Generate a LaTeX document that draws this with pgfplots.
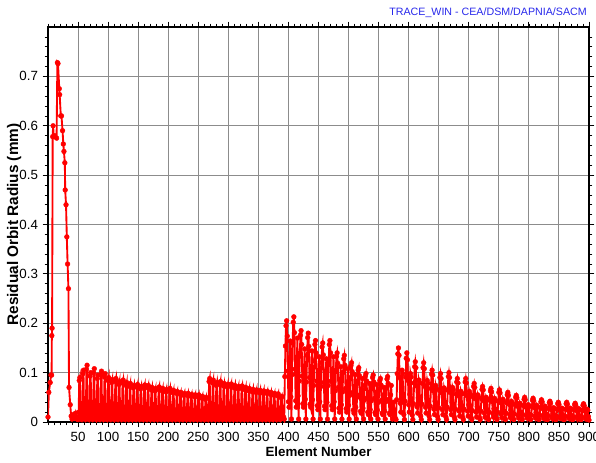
\documentclass[border=0pt]{standalone}
\usepackage{pgfplots}
\pgfplotsset{compat=1.18}
\usepackage{fontspec}
\setmainfont{Liberation Sans}
\definecolor{twblue}{RGB}{40,40,235}
\definecolor{gridgray}{RGB}{140,140,140}
\begin{document}
\begin{tikzpicture}
\useasboundingbox (-36pt,-30pt) rectangle (411pt,316.5pt);
\begin{axis}[
  scale only axis, width=405.75pt, height=296.25pt,
  xmin=0, xmax=900, ymin=0, ymax=0.8,
  xtick={50,100,...,900},
  minor xtick={0,10,...,900},
  ytick={0,0.1,0.2,0.3,0.4,0.5,0.6,0.7},
  minor ytick={0.02,0.04,0.06,0.08,0.12,0.14,0.16,0.18,0.22,0.24,0.26,0.28,0.32,0.34,0.36,0.38,0.42,0.44,0.46,0.48,0.52,0.54,0.56,0.58,0.62,0.64,0.66,0.68,0.72,0.74,0.76,0.78},
  /pgf/number format/assume math mode=true,
  yticklabel style={/pgf/number format/fixed, /pgf/number format/precision=1},
  scaled y ticks=false,
  tick align=outside,
  major tick length=4pt, minor tick length=2.5pt,
  tick style={black, line width=0.6pt},
  minor tick style={black, line width=0.5pt},
  xmajorgrids, ymajorgrids,
  major grid style={gridgray, line width=0.8pt},
  axis line style={black, line width=1.2pt},
  ticklabel style={font=\fontsize{10}{12}\selectfont},
  xlabel={\bfseries Element Number},
  ylabel={\bfseries Residual Orbit Radius (mm)},
  xlabel style={font=\fontsize{10}{12}\selectfont, inner sep=0.5pt, anchor=center, at={(axis description cs:0.5,-0.074)}},
  ylabel style={font=\fontsize{11.5}{13}\selectfont, inner sep=0.5pt, anchor=center, at={(axis description cs:-0.0625,0.5)}},
]
\addplot[red, line width=1.4pt, mark=*, mark size=1.8pt, mark options={fill=red, draw=red, line width=0.3pt}] coordinates {
(0,0.010) (1.4,0.060) (3.6,0.080) (5,0.095) (6,0.095) (6.4,0.175) (6.8,0.190) (7.8,0.578) (8.5,0.600) (9.5,0.578) (11,0.580) (14.3,0.575) (15.6,0.728) (16.6,0.726) (18.8,0.675) (19.4,0.663) (21.3,0.620) (22.4,0.620) (24.2,0.590) (25.5,0.563) (26.5,0.548) (28,0.525) (28.6,0.470) (30,0.440) (31.3,0.375) (32.6,0.320) (34,0.270) (35,0.070) (37,0.035) (38.5,0.012) (40,0.006) (42,0.015) (44,0.008) (46,0.018) (48,0.006)
(50,0.005) (51,0.020) (52,0.084) (53,0.090) (54,0.015) (55,0.008)
(56,0.005) (57,0.020) (58,0.098) (59,0.105) (60,0.015) (61,0.008)
(62,0.005) (63,0.020) (64,0.107) (65,0.115) (66,0.015) (67,0.008)
(68,0.005) (69,0.020) (70,0.093) (71,0.100) (72,0.015) (73,0.008)
(74,0.005) (75,0.020) (76,0.100) (77,0.108) (78,0.015) (79,0.008)
(80,0.005) (81,0.020) (82,0.088) (83,0.095) (84,0.015) (85,0.008)
(86,0.005) (87,0.020) (88,0.096) (89,0.103) (90,0.015) (91,0.008)
(92,0.005) (93,0.020) (94,0.091) (95,0.098) (96,0.015) (97,0.008)
(98,0.005) (99,0.020) (100,0.084) (101,0.090) (102,0.015) (103,0.008)
(104,0.005) (105,0.020) (106,0.080) (107,0.086) (108,0.015) (109,0.008)
(110,0.005) (111,0.020) (112,0.082) (113,0.088) (114,0.015) (115,0.008)
(116,0.005) (117,0.020) (118,0.076) (119,0.082) (120,0.015) (121,0.008)
(122,0.005) (123,0.020) (124,0.079) (125,0.085) (126,0.015) (127,0.008)
(128,0.005) (129,0.020) (130,0.074) (131,0.080) (132,0.015) (133,0.008)
(134,0.005) (135,0.020) (136,0.072) (137,0.078) (138,0.015) (139,0.008)
(140,0.005) (141,0.020) (142,0.069) (143,0.074) (144,0.015) (145,0.008)
(146,0.005) (147,0.020) (148,0.071) (149,0.076) (150,0.015) (151,0.008)
(152,0.005) (153,0.020) (154,0.067) (155,0.072) (156,0.015) (157,0.008)
(158,0.005) (159,0.020) (160,0.070) (161,0.075) (162,0.015) (163,0.008)
(164,0.005) (165,0.020) (166,0.069) (167,0.074) (168,0.015) (169,0.008)
(170,0.005) (171,0.020) (172,0.065) (173,0.070) (174,0.015) (175,0.008)
(176,0.005) (177,0.020) (178,0.063) (179,0.068) (180,0.015) (181,0.008)
(182,0.005) (183,0.020) (184,0.066) (185,0.071) (186,0.015) (187,0.008)
(188,0.005) (189,0.020) (190,0.063) (191,0.068) (192,0.015) (193,0.008)
(194,0.005) (195,0.020) (196,0.061) (197,0.066) (198,0.015) (199,0.008)
(200,0.005) (201,0.020) (202,0.063) (203,0.068) (204,0.015) (205,0.008)
(206,0.005) (207,0.020) (208,0.059) (209,0.064) (210,0.015) (211,0.008)
(212,0.005) (213,0.020) (214,0.058) (215,0.062) (216,0.015) (217,0.008)
(218,0.005) (219,0.020) (220,0.056) (221,0.060) (222,0.015) (223,0.008)
(224,0.005) (225,0.020) (226,0.054) (227,0.058) (228,0.015) (229,0.008)
(230,0.005) (231,0.020) (232,0.054) (233,0.058) (234,0.015) (235,0.008)
(236,0.005) (237,0.020) (238,0.052) (239,0.056) (240,0.015) (241,0.008)
(242,0.005) (243,0.020) (244,0.051) (245,0.055) (246,0.015) (247,0.008)
(248,0.005) (249,0.020) (250,0.051) (251,0.055) (252,0.015) (253,0.008)
(254,0.005) (255,0.020) (256,0.048) (257,0.052) (258,0.015) (259,0.008)
(260,0.005) (261,0.020) (262,0.046) (263,0.050) (264,0.015) (265,0.008)
(266,0.005) (267,0.020) (268,0.082) (269,0.088) (270,0.015) (271,0.008)
(272,0.005) (273,0.020) (274,0.079) (275,0.085) (276,0.015) (277,0.008)
(278,0.005) (279,0.020) (280,0.074) (281,0.080) (282,0.015) (283,0.008)
(284,0.005) (285,0.020) (286,0.076) (287,0.082) (288,0.015) (289,0.008)
(290,0.005) (291,0.020) (292,0.073) (293,0.078) (294,0.015) (295,0.008)
(296,0.005) (297,0.020) (298,0.071) (299,0.076) (300,0.015) (301,0.008)
(302,0.005) (303,0.020) (304,0.072) (305,0.077) (306,0.015) (307,0.008)
(308,0.005) (309,0.020) (310,0.069) (311,0.074) (312,0.015) (313,0.008)
(314,0.005) (315,0.020) (316,0.067) (317,0.072) (318,0.015) (319,0.008)
(320,0.005) (321,0.020) (322,0.068) (323,0.073) (324,0.015) (325,0.008)
(326,0.005) (327,0.020) (328,0.065) (329,0.070) (330,0.015) (331,0.008)
(332,0.005) (333,0.020) (334,0.063) (335,0.068) (336,0.015) (337,0.008)
(338,0.005) (339,0.020) (340,0.061) (341,0.066) (342,0.015) (343,0.008)
(344,0.005) (345,0.020) (346,0.060) (347,0.065) (348,0.015) (349,0.008)
(350,0.005) (351,0.020) (352,0.059) (353,0.064) (354,0.015) (355,0.008)
(356,0.005) (357,0.020) (358,0.058) (359,0.063) (360,0.015) (361,0.008)
(362,0.005) (363,0.020) (364,0.058) (365,0.062) (366,0.015) (367,0.008)
(368,0.005) (369,0.020) (370,0.056) (371,0.060) (372,0.015) (373,0.008)
(374,0.005) (375,0.020) (376,0.054) (377,0.058) (378,0.015) (379,0.008)
(380,0.005) (381,0.020) (382,0.053) (383,0.057) (384,0.015) (385,0.008)
(386,0.005) (387,0.020) (388,0.049) (389,0.052) (390,0.015) (391,0.008) (392,0.010)
(393,0.006) (394,0.092) (395,0.154) (396,0.195) (397,0.205) (398,0.174) (399,0.103) (400,0.041) (401,0.030) (402,0.123) (403,0.164) (404,0.051)
(405,0.006) (406,0.096) (407,0.160) (408,0.202) (409,0.213) (410,0.181) (411,0.107) (412,0.043) (413,0.030) (414,0.128) (415,0.170) (416,0.053)
(417,0.006) (418,0.083) (419,0.139) (420,0.176) (421,0.185) (422,0.157) (423,0.093) (424,0.037) (425,0.030) (426,0.111) (427,0.148) (428,0.046)
(429,0.006) (430,0.081) (431,0.135) (432,0.171) (433,0.180) (434,0.153) (435,0.090) (436,0.036) (437,0.030) (438,0.108) (439,0.144) (440,0.045)
(441,0.006) (442,0.074) (443,0.124) (444,0.157) (445,0.165) (446,0.140) (447,0.083) (448,0.033) (449,0.025) (450,0.099) (451,0.132) (452,0.041)
(453,0.006) (454,0.072) (455,0.120) (456,0.152) (457,0.160) (458,0.136) (459,0.080) (460,0.032) (461,0.025) (462,0.096) (463,0.128) (464,0.040)
(465,0.006) (466,0.074) (467,0.124) (468,0.157) (469,0.165) (470,0.140) (471,0.083) (472,0.033) (473,0.025) (474,0.099) (475,0.132) (476,0.041)
(477,0.006) (478,0.063) (479,0.105) (480,0.133) (481,0.140) (482,0.119) (483,0.070) (484,0.028) (485,0.020) (486,0.084) (487,0.112) (488,0.035)
(489,0.006) (490,0.061) (491,0.101) (492,0.128) (493,0.135) (494,0.115) (495,0.068) (496,0.027) (497,0.020) (498,0.081) (499,0.108) (500,0.034)
(501,0.006) (502,0.054) (503,0.090) (504,0.114) (505,0.120) (506,0.102) (507,0.060) (508,0.024) (509,0.018) (510,0.072) (511,0.096) (512,0.030)
(513,0.006) (514,0.050) (515,0.083) (516,0.105) (517,0.110) (518,0.094) (519,0.055) (520,0.022) (521,0.018) (522,0.066) (523,0.088) (524,0.028)
(525,0.006) (526,0.044) (527,0.074) (528,0.093) (529,0.098) (530,0.083) (531,0.049) (532,0.020) (533,0.015) (534,0.059) (535,0.078) (536,0.025)
(537,0.006) (538,0.043) (539,0.071) (540,0.090) (541,0.095) (542,0.081) (543,0.048) (544,0.019) (545,0.015) (546,0.057) (547,0.076) (548,0.024)
(549,0.006) (550,0.040) (551,0.066) (552,0.084) (553,0.088) (554,0.075) (555,0.044) (556,0.018) (557,0.015) (558,0.053) (559,0.070) (560,0.022)
(561,0.006) (562,0.041) (563,0.069) (564,0.087) (565,0.092) (566,0.078) (567,0.046) (568,0.018) (569,0.015) (570,0.055) (571,0.074) (572,0.023)
(573,0.006) (575,0.040) (577,0.010) (578,0.006)
(579,0.005) (580,0.045) (581,0.098) (582,0.138) (583,0.150) (584,0.135) (585,0.090) (586,0.038) (587,0.020) (588,0.060) (589,0.105) (590,0.098) (591,0.045) (592,0.015)
(593,0.005) (594,0.042) (595,0.091) (596,0.129) (597,0.140) (598,0.126) (599,0.084) (600,0.035) (601,0.020) (602,0.056) (603,0.098) (604,0.091) (605,0.042) (606,0.014)
(607,0.005) (608,0.037) (609,0.079) (610,0.112) (611,0.122) (612,0.110) (613,0.073) (614,0.031) (615,0.018) (616,0.049) (617,0.085) (618,0.079) (619,0.037) (620,0.012)
(621,0.005) (622,0.036) (623,0.078) (624,0.110) (625,0.120) (626,0.108) (627,0.072) (628,0.030) (629,0.018) (630,0.048) (631,0.084) (632,0.078) (633,0.036) (634,0.012)
(635,0.005) (636,0.032) (637,0.068) (638,0.097) (639,0.105) (640,0.095) (641,0.063) (642,0.026) (643,0.015) (644,0.042) (645,0.074) (646,0.068) (647,0.032) (648,0.011)
(649,0.005) (650,0.029) (651,0.064) (652,0.090) (653,0.098) (654,0.088) (655,0.059) (656,0.025) (657,0.015) (658,0.039) (659,0.069) (660,0.064) (661,0.029) (662,0.010)
(663,0.005) (664,0.030) (665,0.065) (666,0.092) (667,0.100) (668,0.090) (669,0.060) (670,0.025) (671,0.015) (672,0.040) (673,0.070) (674,0.065) (675,0.030) (676,0.010)
(677,0.005) (678,0.026) (679,0.057) (680,0.081) (681,0.088) (682,0.079) (683,0.053) (684,0.022) (685,0.012) (686,0.035) (687,0.062) (688,0.057) (689,0.026) (690,0.009)
(691,0.005) (692,0.026) (693,0.057) (694,0.081) (695,0.088) (696,0.079) (697,0.053) (698,0.022) (699,0.012) (700,0.035) (701,0.062) (702,0.057) (703,0.026) (704,0.009)
(705,0.005) (706,0.023) (707,0.051) (708,0.072) (709,0.078) (710,0.070) (711,0.047) (712,0.020) (713,0.010) (714,0.031) (715,0.055) (716,0.051) (717,0.023) (718,0.008)
(719,0.005) (720,0.022) (721,0.047) (722,0.066) (723,0.072) (724,0.065) (725,0.043) (726,0.018) (727,0.010) (728,0.029) (729,0.050) (730,0.047) (731,0.022) (732,0.007)
(733,0.005) (734,0.020) (735,0.044) (736,0.063) (737,0.068) (738,0.061) (739,0.041) (740,0.017) (741,0.010) (742,0.027) (743,0.048) (744,0.044) (745,0.020) (746,0.007)
(747,0.005) (748,0.020) (749,0.042) (750,0.060) (751,0.065) (752,0.059) (753,0.039) (754,0.016) (755,0.009) (756,0.026) (757,0.046) (758,0.042) (759,0.020) (760,0.007)
(761,0.005) (762,0.018) (763,0.039) (764,0.055) (765,0.060) (766,0.054) (767,0.036) (768,0.015) (769,0.009) (770,0.024) (771,0.042) (772,0.039) (773,0.018) (774,0.006)
(775,0.005) (776,0.016) (777,0.035) (778,0.050) (779,0.054) (780,0.049) (781,0.032) (782,0.014) (783,0.008) (784,0.022) (785,0.038) (786,0.035) (787,0.016) (788,0.006)
(789,0.005) (790,0.015) (791,0.033) (792,0.046) (793,0.050) (794,0.045) (795,0.030) (796,0.013) (797,0.008) (798,0.020) (799,0.035) (800,0.033) (801,0.015) (802,0.006)
(803,0.005) (804,0.014) (805,0.031) (806,0.044) (807,0.048) (808,0.043) (809,0.029) (810,0.012) (811,0.008) (812,0.019) (813,0.034) (814,0.031) (815,0.014) (816,0.006)
(817,0.005) (818,0.014) (819,0.029) (820,0.041) (821,0.045) (822,0.041) (823,0.027) (824,0.011) (825,0.007) (826,0.018) (827,0.032) (828,0.029) (829,0.014) (830,0.005)
(831,0.005) (832,0.013) (833,0.027) (834,0.039) (835,0.042) (836,0.038) (837,0.025) (838,0.011) (839,0.007) (840,0.017) (841,0.029) (842,0.027) (843,0.013) (844,0.005)
(845,0.005) (846,0.012) (847,0.026) (848,0.037) (849,0.040) (850,0.036) (851,0.024) (852,0.010) (853,0.007) (854,0.016) (855,0.028) (856,0.026) (857,0.012) (858,0.005)
(859,0.005) (860,0.012) (861,0.026) (862,0.037) (863,0.040) (864,0.036) (865,0.024) (866,0.010) (867,0.007) (868,0.016) (869,0.028) (870,0.026) (871,0.012) (872,0.005)
(873,0.005) (874,0.011) (875,0.025) (876,0.035) (877,0.038) (878,0.034) (879,0.023) (880,0.010) (881,0.006) (882,0.015) (883,0.027) (884,0.025) (885,0.011) (886,0.005)
(887,0.005) (888,0.011) (889,0.024) (890,0.034) (891,0.037) (892,0.033) (893,0.022) (894,0.009) (895,0.006) (896,0.015) (897,0.026) (898,0.024) (899,0.011) (900,0.004)
};
\end{axis}
\node[anchor=east, text=twblue, font=\fontsize{8}{9.6}\selectfont, inner sep=0pt] at (404.25pt,306.75pt) {TRACE\_WIN - CEA/DSM/DAPNIA/SACM};
\end{tikzpicture}
\end{document}
